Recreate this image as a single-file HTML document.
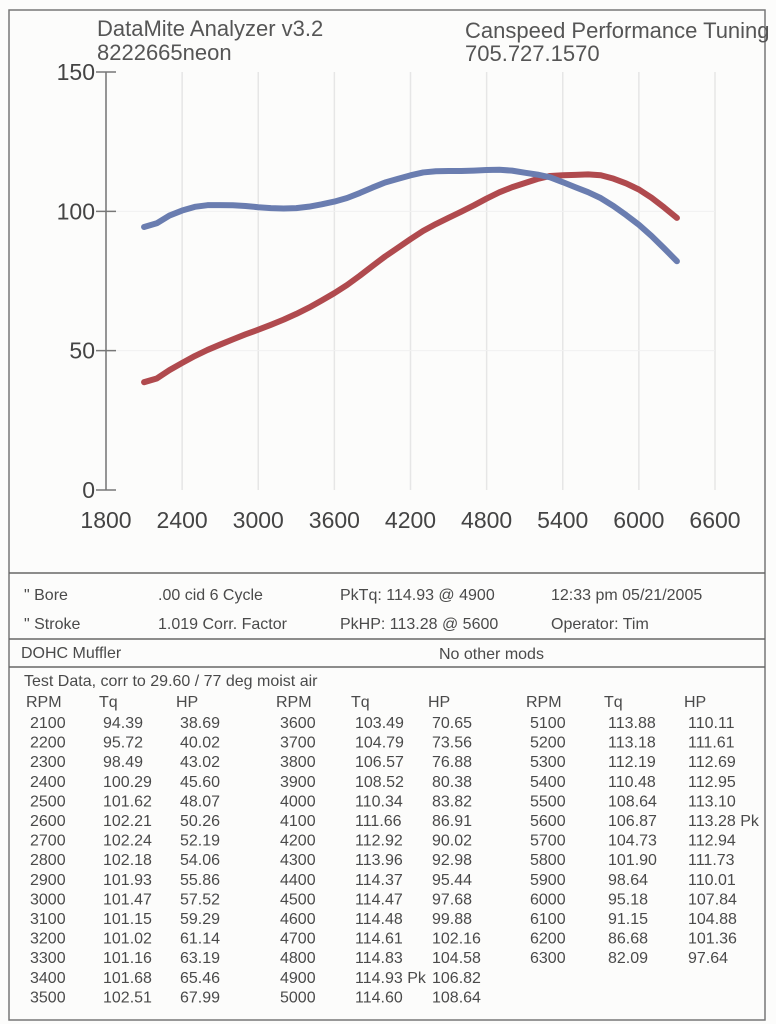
<!DOCTYPE html>
<html><head><meta charset="utf-8"><style>
body{margin:0;background:#fcfcfb;}
svg{display:block;font-family:"Liberation Sans",sans-serif;}
</style></head><body>
<svg width="776" height="1024" viewBox="0 0 776 1024">
<rect x="9" y="10" width="756" height="1010" fill="none" stroke="#777" stroke-width="1.5"/>
<text x="97" y="36" font-size="22" fill="#555">DataMite Analyzer v3.2</text>
<text x="97" y="60" font-size="22" fill="#555">8222665neon</text>
<text x="465" y="38" font-size="22" fill="#555">Canspeed Performance Tuning</text>
<text x="465" y="61" font-size="22" fill="#555">705.727.1570</text>
<g id="chart"></g>
<g font-size="16" fill="#4a4a4a">
<line x1="9" y1="573" x2="765" y2="573" stroke="#666" stroke-width="1.5"/>
<line x1="9" y1="639" x2="765" y2="639" stroke="#666" stroke-width="1.5"/>
<line x1="9" y1="667" x2="765" y2="667" stroke="#666" stroke-width="1.5"/>
<text x="24" y="600">" Bore</text>
<text x="158" y="600">.00 cid  6 Cycle</text>
<text x="340" y="600">PkTq: 114.93 @  4900</text>
<text x="551" y="600">12:33 pm  05/21/2005</text>
<text x="24" y="629">" Stroke</text>
<text x="158" y="629">1.019 Corr. Factor</text>
<text x="340" y="629">PkHP: 113.28 @  5600</text>
<text x="551" y="629">Operator: Tim</text>
<text x="21" y="658">DOHC Muffler</text>
<text x="439" y="659">No other mods</text>
<text x="24" y="686">Test Data, corr to 29.60 / 77 deg moist air</text>
<g id="rows"></g>
</g>
</svg>
<script>
const rpm=[2100,2200,2300,2400,2500,2600,2700,2800,2900,3000,3100,3200,3300,3400,3500,3600,3700,3800,3900,4000,4100,4200,4300,4400,4500,4600,4700,4800,4900,5000,5100,5200,5300,5400,5500,5600,5700,5800,5900,6000,6100,6200,6300];
const torque=[94.39,95.72,98.49,100.29,101.62,102.21,102.24,102.18,101.93,101.47,101.15,101.02,101.16,101.68,102.51,103.49,104.79,106.57,108.52,110.34,111.66,112.92,113.96,114.37,114.47,114.48,114.61,114.83,114.93,114.60,113.88,113.18,112.19,110.48,108.64,106.87,104.73,101.90,98.64,95.18,91.15,86.68,82.09];
const hp=[38.69,40.02,43.02,45.60,48.07,50.26,52.19,54.06,55.86,57.52,59.29,61.14,63.19,65.46,67.99,70.65,73.56,76.88,80.38,83.82,86.91,90.02,92.98,95.44,97.68,99.88,102.16,104.58,106.82,108.64,110.11,111.61,112.69,112.95,113.10,113.28,112.94,111.73,110.01,107.84,104.88,101.36,97.64];
const xTicks=[1800,2400,3000,3600,4200,4800,5400,6000,6600];
const yTicks=[0,50,100,150];
const NS="http://www.w3.org/2000/svg";
const X=v=>106+(v-1800)*(609/4800);
const Y=v=>490-v*(418/150);
const ch=document.getElementById('chart');
function mk(t,a,p){const e=document.createElementNS(NS,t);for(const k in a)e.setAttribute(k,a[k]);(p||ch).appendChild(e);return e;}
xTicks.forEach(t=>{
 const g=mk('line',{x1:X(t),x2:X(t),y1:Y(150),y2:Y(0),stroke:'#e6e6e6','stroke-width':1.5});
 
 
 const l=mk('text',{x:X(t),y:528,'font-size':23,'text-anchor':'middle',fill:'#444'});l.textContent=t;
 
 
});
yTicks.forEach(t=>{
 const g=mk('line',{x1:X(1800),x2:X(6600),y1:Y(t),y2:Y(t),stroke:t==0||t==150?'none':'#f0f0f0','stroke-width':1});
 
 
 const k=mk('line',{x1:96,x2:116,y1:Y(t),y2:Y(t),stroke:'#777','stroke-width':1.5});
 
 
 const l=mk('text',{x:95,y:Y(t)+8,'font-size':23,'text-anchor':'end',fill:'#444'});l.textContent=t;
 
 
});
const ax=mk('line',{x1:106,x2:106,y1:Y(150),y2:Y(0),stroke:'#777','stroke-width':1.5});


const hpPath=mk('polyline',{points:rpm.map((r,i)=>X(r)+','+Y(hp[i])).join(' '),fill:'none',stroke:'#b04a4e','stroke-width':6,'stroke-linejoin':'round','stroke-linecap':'round'});


const tqPath=mk('polyline',{points:rpm.map((r,i)=>X(r)+','+Y(torque[i])).join(' '),fill:'none',stroke:'#6a7db0','stroke-width':6,'stroke-linejoin':'round','stroke-linecap':'round'});


const rows=document.getElementById('rows');
const colX=[[30,103,180],[280,355,432],[530,608,688]];
colX.forEach((c,gi)=>{
 ['RPM','Tq','HP'].forEach((h,j)=>{const t=mk('text',{x:c[j]-4,y:707},rows);t.textContent=h;
 
 });
});
rpm.forEach((r,i)=>{
 const gi=Math.floor(i/15),ri=i%15,c=colX[gi],y=728+ri*19.6;
 const pkT=torque[i]===Math.max(...torque)?' Pk':'',pkH=hp[i]===Math.max(...hp)?' Pk':'';
 [String(r),torque[i].toFixed(2)+pkT,hp[i].toFixed(2)+pkH].forEach((v,j)=>{
  const t=mk('text',{x:c[j],y:y},rows);t.textContent=v;
  
  
 });
});
</script>
</body></html>
